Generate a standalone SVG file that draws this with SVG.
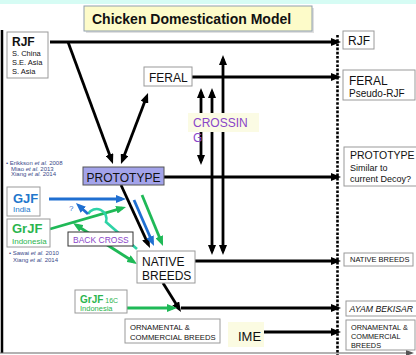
<svg xmlns="http://www.w3.org/2000/svg" width="416" height="355" viewBox="0 0 416 355">
<style>
text{font-family:"Liberation Sans",Arial,sans-serif;fill:#111}
.box{fill:#fff;stroke:#9a9a9a;stroke-width:1}
.k{stroke:#000;stroke-width:2.8;fill:none}
.b{stroke:#1f6fd1;stroke-width:2.8;fill:none}
.g{stroke:#1fb957;stroke-width:2.8;fill:none}
.t{stroke:#2fd3a6;stroke-width:2.6;fill:none}
.cit{font-size:6px;fill:#3a4a8a}
.pur{fill:#8a45c8}
</style>
<defs>
<marker id="ak" viewBox="0 0 10 8" refX="6" refY="4" markerWidth="10" markerHeight="8" markerUnits="userSpaceOnUse" orient="auto-start-reverse"><path d="M0,0 L10,4 L0,8 z" fill="#000"/></marker>
<marker id="ab" viewBox="0 0 10 8" refX="6" refY="4" markerWidth="10" markerHeight="8" markerUnits="userSpaceOnUse" orient="auto-start-reverse"><path d="M0,0 L10,4 L0,8 z" fill="#1f6fd1"/></marker>
<marker id="ag" viewBox="0 0 10 8" refX="6" refY="4" markerWidth="10" markerHeight="8" markerUnits="userSpaceOnUse" orient="auto-start-reverse"><path d="M0,0 L10,4 L0,8 z" fill="#1fb957"/></marker>
<marker id="ay" viewBox="0 0 8 6" refX="4" refY="3" markerWidth="8" markerHeight="6" markerUnits="userSpaceOnUse" orient="auto"><path d="M0,0 L8,3 L0,6 z" fill="#555"/></marker>
</defs>
<rect x="0" y="0" width="416" height="4" fill="#d6fcf4"/>
<g id="frame">
<path d="M2,30 V353" stroke="#000" stroke-width="2.5"/>
<path d="M0,353 H410" stroke="#666" stroke-width="1.2" marker-end="url(#ay)"/>
<path d="M337.5,35 V355" stroke="#000" stroke-width="2.6" stroke-dasharray="2.6 1.6"/>
</g>
<g id="title">
<rect x="86" y="8" width="228" height="25" fill="#000" opacity="0.12"/>
<rect x="84" y="6" width="228" height="25" fill="#fdfbc9" stroke="#8fa0ad" stroke-width="1"/>
<text x="92" y="24" font-size="14" font-weight="bold">Chicken Domestication Model</text>
</g>
<g id="connectors">
<path class="k" d="M50,42 H337" marker-end="url(#ak)"/>
<path class="k" d="M192,77 H337" marker-end="url(#ak)"/>
<path class="k" d="M163,177 H337" marker-end="url(#ak)"/>
<path class="k" d="M195,261 H337" marker-end="url(#ak)"/>
<path class="k" d="M181,308 H337" marker-end="url(#ak)"/>
<path class="k" d="M264,332 H337" marker-end="url(#ak)"/>
<path class="k" d="M68,42 L111.6,160.2" marker-end="url(#ak)"/>
<path class="k" d="M146.6,96.7 L122.4,160.3" marker-start="url(#ak)" marker-end="url(#ak)"/>
<path class="k" d="M201,92 V161" marker-start="url(#ak)" marker-end="url(#ak)"/>
<path class="k" d="M212,92 V251" marker-start="url(#ak)" marker-end="url(#ak)"/>
<path class="k" d="M223,59 V251" marker-start="url(#ak)" marker-end="url(#ak)"/>
<path class="k" d="M121,185 L148.3,244.4" marker-end="url(#ak)"/>
<path class="b" d="M134,200 L152.4,242.3" marker-end="url(#ab)"/>
<path class="g" d="M142,195 L161.5,242.3" marker-end="url(#ag)"/>
<path class="b" d="M49,199 H122" marker-end="url(#ab)"/>
<path class="g" d="M50,229 L122.2,208.1" marker-end="url(#ag)"/>
<path class="g" d="M76.4,225.2 L133.6,261.8" marker-start="url(#ag)" marker-end="url(#ag)"/>
<path class="t" d="M137,249 L106,222 A9.9,9.9 0 0 0 88,214"/>
<path class="b" d="M88,214 L78.9,205.7" marker-end="url(#ab)"/>
<path class="k" d="M163,283 L178.9,308.6" marker-end="url(#ak)"/>
<path class="g" d="M127,308 H173" marker-end="url(#ag)"/>
<text x="69" y="211" font-size="8" style="fill:#1f6fd1">?</text>
</g>
<g id="rjf">
<rect class="box" x="7" y="32" width="41" height="46"/>
<text x="12" y="45.5" font-size="12" font-weight="bold">RJF</text>
<text x="12" y="56" font-size="7.5">S. China</text>
<text x="12" y="65" font-size="7.5">S.E. Asia</text>
<text x="12" y="74" font-size="7.5">S. Asia</text>
</g>
<g id="feral">
<rect class="box" x="144" y="67" width="48" height="19"/>
<text x="149" y="82" font-size="12">FERAL</text>
</g>
<g id="crossing">
<rect x="188" y="113" width="71" height="19" fill="#fbfbe4"/>
<text x="193" y="127" font-size="12" class="pur">CROSSIN</text>
<text x="193" y="141.5" font-size="12" class="pur">G</text>
</g>
<g id="prototype">
<rect x="83" y="167" width="81" height="18" fill="#a3a3ea" stroke="#555" stroke-width="1"/>
<text x="123.5" y="181.5" font-size="12" text-anchor="middle">PROTOTYPE</text>
</g>
<g id="citations">
<text class="cit" x="6" y="165">• Erikkson <tspan font-style="italic">et al.</tspan> 2008</text>
<text class="cit" x="11" y="170.7">Miao <tspan font-style="italic">et al.</tspan> 2013</text>
<text class="cit" x="11" y="176.3">Xiang <tspan font-style="italic">et al.</tspan> 2014</text>
<text class="cit" x="9" y="255">• Sawai <tspan font-style="italic">et al.</tspan> 2010</text>
<text class="cit" x="13" y="261.5">Xiang <tspan font-style="italic">et al.</tspan> 2014</text>
</g>
<g id="gjf">
<rect class="box" x="7" y="187" width="33" height="29"/>
<text x="13" y="203" font-size="13" font-weight="bold" style="fill:#2277cc">GJF</text>
<text x="13" y="212" font-size="8" style="fill:#2277cc">India</text>
</g>
<g id="grjf">
<rect class="box" x="7" y="219" width="43" height="28"/>
<text x="12" y="233" font-size="13" font-weight="bold" style="fill:#2bb54e">GrJF</text>
<text x="12" y="243.5" font-size="8" style="fill:#2bb54e">Indonesia</text>
</g>
<g id="backcross">
<rect x="68" y="232" width="65" height="14" fill="#fff" stroke="#333" stroke-width="1"/>
<text x="73" y="242.5" font-size="8.5" class="pur">BACK CROSS</text>
</g>
<g id="native">
<rect class="box" x="137" y="251" width="58" height="32"/>
<text x="142" y="265.5" font-size="12">NATIVE</text>
<text x="142" y="279.5" font-size="12">BREEDS</text>
</g>
<g id="grjf16c">
<rect class="box" x="75" y="290" width="52" height="23"/>
<text x="80" y="302.5" font-size="10" font-weight="bold" style="fill:#2bb54e">GrJF<tspan font-size="7" font-weight="normal"> 16C</tspan></text>
<text x="80" y="311" font-size="7.5" style="fill:#2bb54e">Indonesia</text>
</g>
<g id="ornamental">
<rect class="box" x="125" y="319" width="95" height="24"/>
<text x="130" y="330" font-size="7.7">ORNAMENTAL &amp;</text>
<text x="130" y="339.5" font-size="7.7">COMMERCIAL BREEDS</text>
</g>
<g id="ime">
<rect x="228" y="322" width="36" height="25" fill="#fbfbe2"/>
<text x="238" y="341" font-size="13">IME</text>
</g>
<g id="r-rjf">
<rect class="box" x="343" y="31" width="31" height="18"/>
<text x="348" y="45" font-size="12">RJF</text>
</g>
<g id="r-feral">
<rect class="box" x="343" y="70" width="72" height="30"/>
<text x="349" y="84.5" font-size="12">FERAL</text>
<text x="349" y="97" font-size="10">Pseudo-RJF</text>
</g>
<g id="r-prototype">
<rect class="box" x="344" y="147" width="74" height="39"/>
<text x="350" y="158.5" font-size="10.5">PROTOTYPE</text>
<text x="350" y="170.5" font-size="9">Similar to</text>
<text x="350" y="182" font-size="9">current Decoy?</text>
</g>
<g id="r-native">
<rect class="box" x="344" y="253" width="69" height="13"/>
<text x="350" y="262" font-size="7.5">NATIVE BREEDS</text>
</g>
<g id="r-ayam">
<rect class="box" x="346" y="301" width="72" height="15"/>
<text x="349.5" y="312" font-size="8.7" font-style="italic">AYAM BEKISAR</text>
</g>
<g id="r-ornamental">
<rect class="box" x="346" y="320" width="69" height="30"/>
<text x="351" y="329.5" font-size="7.3">ORNAMENTAL &amp;</text>
<text x="351" y="338.5" font-size="7.3">COMMERCIAL</text>
<text x="351" y="347.5" font-size="7.3">BREEDS</text>
</g>
</svg>
